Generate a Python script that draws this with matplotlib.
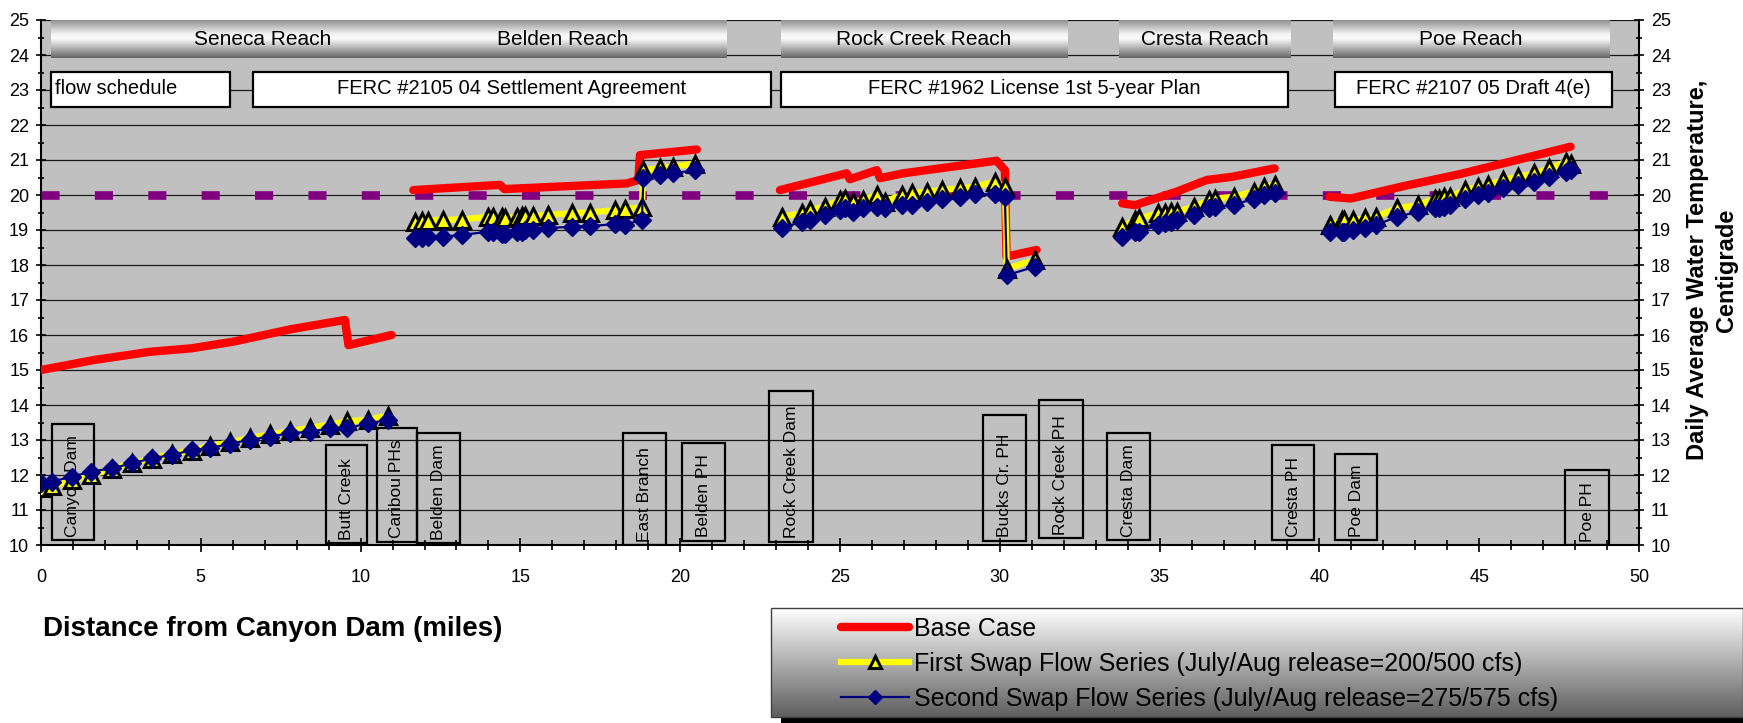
import numpy as np
import matplotlib.pyplot as plt
from matplotlib.colors import LinearSegmentedColormap
from matplotlib.patches import Rectangle
from matplotlib.ticker import MultipleLocator

nan = np.nan

# Distance from Canyon Dam (miles); nan breaks the line between reaches
base_x = [0.0, 1.69, 3.41, 4.71, 6.02, 7.79, 9.51, 9.62, 10.97, nan,
          11.65, 14.36, 14.5, 18.33, 18.69, 18.74, 20.52, nan,
          23.12, 25.21, 25.31, 26.15, 26.25, 26.98, 29.9, 30.16, 30.21, 31.15, nan,
          33.83, 34.23, 35.55, 36.48, 37.27, 38.6, nan,
          40.32, 40.98, 42.57, 44.41, 47.86]
base_temp = [15.0, 15.29, 15.52, 15.62, 15.81, 16.16, 16.43, 15.71, 16.0, nan,
             20.14, 20.29, 20.17, 20.33, 20.43, 21.14, 21.3, nan,
             20.14, 20.62, 20.45, 20.71, 20.48, 20.62, 20.98, 20.71, 18.24, 18.43, nan,
             19.76, 19.71, 20.1, 20.43, 20.52, 20.76, nan,
             19.95, 19.9, 20.24, 20.6, 21.38]

swap_x = [0.0, 0.33, 0.96, 1.58, 2.21, 2.84, 3.46, 4.09, 4.71, 5.29, 5.91, 6.54,
          7.16, 7.79, 8.42, 9.04, 9.56, 10.24, 10.87, nan,
          11.7, 11.91, 12.12, 12.59, 13.16, 14.0, 14.15, 14.41, 14.52, 14.88, 15.04,
          15.14, 15.4, 15.87, 16.6, 17.18, 17.96, 18.27, 18.8, 18.85, 19.37, 19.79, 20.46, nan,
          23.18, 23.8, 24.06, 24.53, 25.0, 25.16, 25.42, 25.73, 26.15, 26.41, 26.93,
          27.24, 27.71, 28.18, 28.75, 29.22, 29.85, 30.16, 30.22, 31.1, nan,
          33.83, 34.23, 34.36, 34.95, 35.16, 35.35, 35.55, 36.08, 36.55, 36.74, 37.34,
          37.94, 38.27, 38.6, nan,
          40.32, 40.72, 40.78, 41.04, 41.44, 41.77, 42.43, 43.09, 43.62, 43.75, 43.89,
          44.09, 44.55, 44.95, 45.28, 45.74, 46.2, 46.73, 47.19, 47.72, 47.86]
swap1_temp = [11.62, 11.68, 11.85, 12.0, 12.17, 12.33, 12.47, 12.6, 12.7, 12.83, 12.93,
              13.06, 13.16, 13.25, 13.35, 13.44, 13.53, 13.58, 13.7, nan,
              19.24, 19.25, 19.27, 19.29, 19.3, 19.38, 19.38, 19.36, 19.33, 19.38, 19.4,
              19.4, 19.4, 19.43, 19.48, 19.5, 19.57, 19.59, 19.65, 20.71, 20.76, 20.81, 20.9, nan,
              19.38, 19.48, 19.57, 19.67, 19.86, 19.9, 19.81, 19.86, 20.0, 19.81, 20.0,
              20.05, 20.1, 20.14, 20.19, 20.24, 20.38, 20.24, 17.9, 18.14, nan,
              19.1, 19.29, 19.33, 19.48, 19.5, 19.52, 19.52, 19.67, 19.86, 19.9, 19.95,
              20.1, 20.24, 20.29, nan,
              19.14, 19.29, 19.29, 19.29, 19.33, 19.38, 19.62, 19.71, 19.9, 19.9, 19.93,
              19.95, 20.14, 20.24, 20.29, 20.43, 20.52, 20.62, 20.76, 20.95, 20.9]
swap2_temp = [11.76, 11.81, 11.95, 12.1, 12.19, 12.33, 12.48, 12.57, 12.71, 12.76, 12.9,
              13.0, 13.1, 13.19, 13.24, 13.33, 13.33, 13.48, 13.57, nan,
              18.76, 18.76, 18.79, 18.81, 18.86, 18.95, 18.95, 18.9, 18.9, 18.95, 18.95,
              19.0, 19.0, 19.05, 19.1, 19.11, 19.17, 19.14, 19.3, 20.48, 20.57, 20.62, 20.71, nan,
              19.05, 19.24, 19.29, 19.43, 19.57, 19.62, 19.52, 19.62, 19.67, 19.62, 19.71,
              19.71, 19.81, 19.9, 19.95, 20.03, 20.03, 19.95, 17.71, 17.95, nan,
              18.81, 18.95, 18.95, 19.14, 19.19, 19.24, 19.29, 19.43, 19.62, 19.67, 19.71,
              19.9, 20.0, 20.05, nan,
              18.95, 18.95, 18.95, 19.0, 19.05, 19.14, 19.38, 19.52, 19.62, 19.64, 19.67,
              19.71, 19.9, 20.0, 20.05, 20.19, 20.29, 20.38, 20.52, 20.67, 20.71]

target_temp = 20.0

reach_names = ['Seneca Reach', 'Belden Reach', 'Rock Creek Reach', 'Cresta Reach', 'Poe Reach']
reach_start = [0.3, 11.25, 23.15, 33.72, 40.42]
reach_end = [13.6, 21.42, 32.1, 39.1, 49.07]

flow_names = ['flow schedule', 'FERC #2105 04 Settlement Agreement',
              'FERC #1962 License 1st 5-year Plan', 'FERC #2107 05 Draft 4(e)']
flow_start = [0.31, 6.62, 23.15, 40.49]
flow_end = [5.9, 22.83, 39.03, 49.15]

site_names = ['Canyon Dam', 'Butt Creek', 'Caribou PHs', 'Belden Dam', 'East Branch',
              'Belden PH', 'Rock Creek Dam', 'Bucks Cr. PH', 'Rock Creek PH',
              'Cresta Dam', 'Cresta PH', 'Poe Dam', 'Poe PH']
site_left = [0.33, 8.92, 10.5, 11.75, 18.22, 20.05, 22.79, 29.48, 31.23, 33.35, 38.53, 40.49, 47.7]
site_right = [1.67, 10.2, 11.75, 13.11, 19.56, 21.4, 24.17, 30.82, 32.59, 34.7, 39.82, 41.81, 49.07]
site_bottom = [10.13, 10.05, 10.1, 10.05, 10.0, 10.12, 10.1, 10.12, 10.19, 10.14, 10.14, 10.14, 10.0]
site_top = [13.46, 12.86, 13.33, 13.19, 13.19, 12.92, 14.41, 13.7, 14.14, 13.19, 12.87, 12.6, 12.14]

plt.rcParams['font.family'] = ['Liberation Sans', 'DejaVu Sans']

W, H = 1743, 723
fig = plt.figure(figsize=(W / 100, H / 100), dpi=100)
ax = fig.add_axes([41 / W, 178 / H, 1598 / W, 525 / H])
ax.set_facecolor('#c0c0c0')

# reach banners with a rounded (cylinder) shading
banner_cmap = LinearSegmentedColormap.from_list(
    'banner', [(0.0, '#666666'), (0.5, '#fbfbfb'), (0.62, '#f2f2f2'), (1.0, '#888888')])
grad = np.linspace(0, 1, 200).reshape(-1, 1)
for name, x0, x1 in zip(reach_names, reach_start, reach_end):
    ax.imshow(grad, extent=(x0, x1, 23.9, 25.0), origin='lower', aspect='auto',
              cmap=banner_cmap, zorder=3, interpolation='bilinear')
    ax.text((x0 + x1) / 2, 24.43, name, ha='center', va='center', fontsize=15, zorder=4)

for name, x0, x1 in zip(flow_names, flow_start, flow_end):
    ax.add_patch(Rectangle((x0, 22.52), x1 - x0, 1.0, facecolor='white',
                           edgecolor='black', lw=1.6, zorder=3))
    if name == 'flow schedule':
        ax.text(x0 + 0.12, 23.03, name, ha='left', va='center', fontsize=14.5, zorder=4)
    else:
        ax.text((x0 + x1) / 2, 23.03, name, ha='center', va='center', fontsize=14.5, zorder=4)

for name, x0, x1, y0, y1 in zip(site_names, site_left, site_right, site_bottom, site_top):
    ax.add_patch(Rectangle((x0, y0), x1 - x0, y1 - y0, fill=False,
                           edgecolor='black', lw=1.6, zorder=2.5))
    ax.text((x0 + x1) / 2, y0 + 0.1, name, rotation=90, ha='center', va='bottom',
            fontsize=12.5, zorder=2.6)

ax.plot([0, 50], [target_temp, target_temp], color='#800080', lw=6.2,
        dashes=(2.1, 4.1), dash_capstyle='butt', zorder=4)

l_base, = ax.plot(base_x, base_temp, color='#ff0000', lw=6, solid_capstyle='round',
                  solid_joinstyle='round', zorder=5, label='Base Case')
l_swap1, = ax.plot(swap_x, swap1_temp, color='#ffff00', lw=4.5, marker='^', ms=12,
                   mfc='#ffff00', mec='black', mew=2.2, zorder=6,
                   label='First Swap Flow Series (July/Aug release=200/500 cfs)')
l_swap2, = ax.plot(swap_x, swap2_temp, color='#000080', lw=1.6, marker='D', ms=9.5,
                   mfc='#000080', mec='#000080', zorder=7,
                   label='Second Swap Flow Series (July/Aug release=275/575 cfs)')

ax.set_xlim(0, 50)
ax.set_ylim(10, 25)
ax.xaxis.set_major_locator(MultipleLocator(5))
ax.xaxis.set_minor_locator(MultipleLocator(1))
ax.yaxis.set_major_locator(MultipleLocator(1))
ax.yaxis.set_minor_locator(MultipleLocator(0.5))
ax.yaxis.set_ticks_position('both')
ax.tick_params(axis='y', which='both', labelleft=True, labelright=True,
               direction='inout', labelsize=13, pad=5)
ax.tick_params(axis='y', which='major', length=7, width=1.2)
ax.tick_params(axis='y', which='minor', length=5, width=1.2)
ax.tick_params(axis='x', which='both', direction='inout', labelsize=13, pad=12)
ax.tick_params(axis='x', which='major', length=10, width=1.2)
ax.tick_params(axis='x', which='minor', length=7, width=1.2)
ax.grid(axis='y', which='major', color='#1a1a1a', lw=0.9)
ax.set_axisbelow(True)
ax.spines['top'].set_visible(False)
for s in ['left', 'right', 'bottom']:
    ax.spines[s].set_linewidth(1.5)

fig.text(43 / W, 1 - 629 / H, 'Distance from Canyon Dam (miles)', ha='left', va='center',
         fontsize=20, fontweight='bold')
fig.text(1712 / W, 1 - 270 / H, 'Daily Average Water Temperature,\nCentigrade',
         rotation=90, ha='center', va='center', multialignment='center',
         fontsize=17, fontweight='bold', linespacing=1.3)

# legend backdrop: shadow plus a white-to-grey gradient box
lay = fig.add_axes([0, 0, 1, 1], zorder=-1)
lay.axis('off')
lay.add_patch(Rectangle((781, 618), W - 781, 105, facecolor='black',
                        edgecolor='none', zorder=1))
leg_cmap = LinearSegmentedColormap.from_list('leg', ['#5e5e5e', '#ffffff'])
lay.imshow(grad, extent=(771, W, 717, 608), origin='lower', aspect='auto',
           cmap=leg_cmap, interpolation='bilinear', zorder=2)
lay.add_patch(Rectangle((771, 608), W - 771, 109, fill=False, edgecolor='#404040',
                        lw=1, zorder=3))
lay.set_xlim(0, W)
lay.set_ylim(H, 0)

fig.legend(handles=[l_base, l_swap1, l_swap2], loc='upper left',
           bbox_to_anchor=(841 / W, 1 - 617 / H), frameon=False, fontsize=18,
           handlelength=2.7, handletextpad=0.2, labelspacing=0.44, borderpad=0,
           borderaxespad=0, numpoints=1, markerscale=0.7)

fig.savefig('out.png', dpi=100)
